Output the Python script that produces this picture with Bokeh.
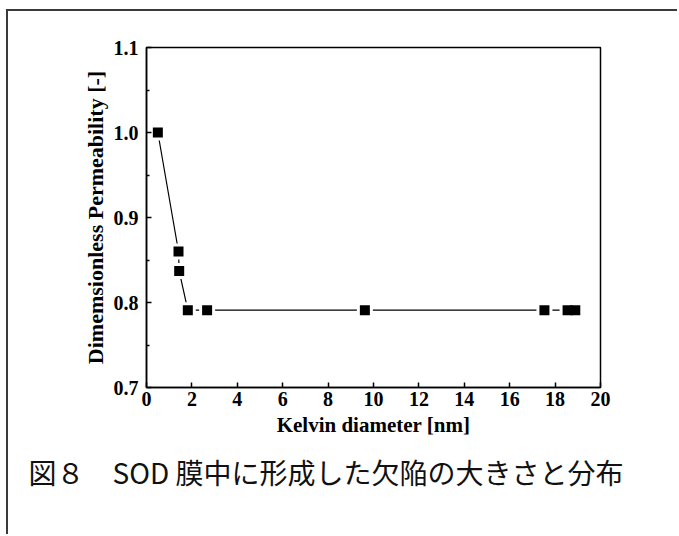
from bokeh.plotting import figure
from bokeh.models import Range1d, FixedTicker, Title
from bokeh.embed import file_html
from bokeh.resources import INLINE

kelvin_diameter = [0.5, 1.41, 1.44, 1.82, 2.67, 9.62, 17.53, 18.55, 18.89]
permeability = [1.0, 0.860, 0.837, 0.791, 0.791, 0.791, 0.791, 0.791, 0.791]
x_ticks = [0, 2, 4, 6, 8, 10, 12, 14, 16, 18, 20]
y_ticks = [0.7, 0.8, 0.9, 1.0, 1.1]
y_minor = [0.75, 0.85, 0.95, 1.05]
x_label = "Kelvin diameter [nm]"
y_label = "Dimemsionless Permeability [-]"
caption = "図８　SOD 膜中に形成した欠陥の大きさと分布"

OX, OY = 8, 11            # canvas origin inside the outer page frame
W, H = 679 - OX, 536 - OY
L, T = 146 - OX, 47 - OY
fw, fh = 454, 340
R, B = W - L - fw, H - T - fh

p = figure(width=W, height=H, output_backend="svg", toolbar_location=None,
           x_range=Range1d(0, 20), y_range=Range1d(0.7, 1.1),
           min_border_left=L, min_border_right=R, min_border_top=T, min_border_bottom=B)
p.styles = {"margin-top": "9px", "margin-left": "6px",
            "border-top": "2px solid #3a3a3a", "border-left": "2px solid #3a3a3a"}
p.grid.visible = False
p.outline_line_color = "black"
p.outline_line_width = 1.5
p.background_fill_color = "white"
p.border_fill_color = "white"

serif = "Liberation Serif"
for ax in (p.xaxis[0], p.yaxis[0]):
    ax.axis_line_width = 1.5
    ax.axis_line_color = "black"
    ax.major_tick_in = 5
    ax.major_tick_out = 0
    ax.minor_tick_in = 3
    ax.minor_tick_out = 0
    ax.major_tick_line_width = 1.5
    ax.minor_tick_line_width = 1.5
    ax.major_label_text_font = serif
    ax.major_label_text_font_style = "bold"
    ax.major_label_text_font_size = "20px"
    ax.major_label_text_color = "black"
    ax.axis_label_text_font = serif
    ax.axis_label_text_font_style = "bold"
    ax.axis_label_text_font_size = "21px"
    ax.axis_label_text_color = "black"

p.xaxis.ticker = FixedTicker(ticks=x_ticks)
p.xaxis.minor_tick_line_color = None
p.xaxis.major_label_standoff = 4
p.xaxis.axis_label = x_label
p.xaxis.axis_label_standoff = 4

p.yaxis.ticker = FixedTicker(ticks=y_ticks, minor_ticks=y_minor)
p.yaxis.major_label_overrides = {t: f"{t:.1f}" for t in y_ticks}
p.yaxis.major_label_standoff = 8
p.yaxis.axis_label = y_label
p.yaxis.axis_label_text_font_size = "22px"
p.yaxis.axis_label_standoff = 3

p.line(kelvin_diameter, permeability, line_color="black", line_width=1.2)
p.scatter(kelvin_diameter, permeability, marker="square", size=16,
          fill_color="white", line_color=None)
p.scatter(kelvin_diameter, permeability, marker="square", size=10,
          fill_color="black", line_color=None)

cap = Title(text=caption, align="left", offset=-(146 - 28),
            text_font="Noto Sans CJK JP", text_font_size="28px",
            text_font_style="normal", text_color="#111111", standoff=20)
p.add_layout(cap, "below")

open("out.html", "w").write(file_html(p, INLINE))
